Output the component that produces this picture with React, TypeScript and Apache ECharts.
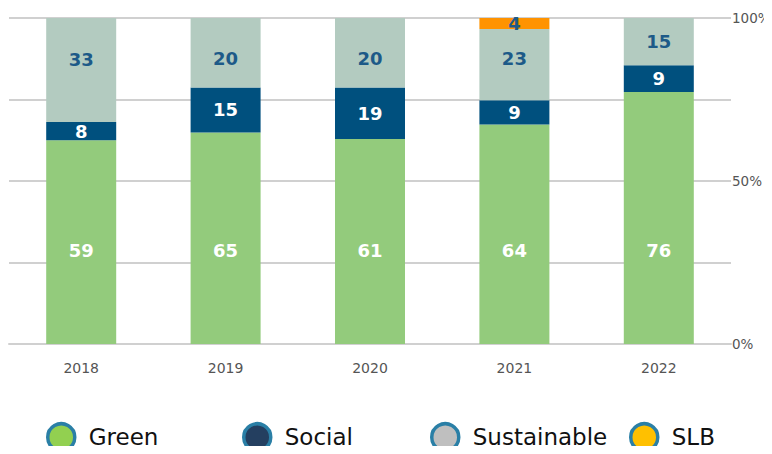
import React, { useEffect, useRef } from "react";
import * as echarts from "echarts";

const categories = ["2018", "2019", "2020", "2021", "2022"];
// bar heights (% of total) as drawn in the picture
const greenValues = [62.5, 64.9, 62.9, 67.3, 77.3];
const socialValues = [5.6, 13.8, 15.8, 7.5, 8.2];
const sustainableValues = [31.9, 21.3, 21.3, 21.8, 14.5];
const slbValues = [0, 0, 0, 3.4, 0];
// printed labels
const greenLabels = [59, 65, 61, 64, 76];
const socialLabels = [8, 15, 19, 9, 9];
const sustainableLabels = [33, 20, 20, 23, 15];
const slbLabels = [0, 0, 0, 4, 0];
const yTicks = [0, 50, 100];

const legendNames = ["Green", "Social", "Sustainable", "SLB"];
const legendFill = ["#92d050", "#243f60", "#bfbfbf", "#ffc000"];
const legendLeft = [46, 242, 430, 629];
const sustainableLabelShift = [-10, 6, 6, -6, 0];

export default function App() {
  const ref = useRef<HTMLDivElement>(null);
  useEffect(() => {
    if (!ref.current) return;
    const chart = echarts.init(ref.current, undefined, { renderer: "svg" });
    const labelFont = {
      fontFamily: "DejaVu Sans",
      fontWeight: "bold" as const,
      fontSize: 18,
    };
    const mkSeries = (
      name: string,
      data: number[],
      labels: number[],
      color: string,
      labelColor: string,
      shifts?: number[],
      position: string = "inside",
      distance: number = 5
    ) => ({
      name,
      type: "bar",
      stack: "total",
      barWidth: 70,
      data: data.map((v, i) =>
        v === 0
          ? null
          : {
              value: v,
              label: shifts ? { offset: [0, shifts[i]] } : undefined,
            }
      ),
      itemStyle: { color },
      label: {
        show: true,
        position,
        distance,
        color: labelColor,
        formatter: (p: any) => String(labels[p.dataIndex]),
        ...labelFont,
      },
      emphasis: { disabled: true },
    });
    chart.setOption({
      animation: false,
      grid: { left: 9, right: 41, top: 18, bottom: 110, outerBoundsMode: "none" },
      xAxis: {
        type: "category",
        data: categories,
        axisTick: { show: false },
        axisLine: { show: true, lineStyle: { color: "#d0d0d0", width: 2 } },
        axisLabel: {
          color: "#555",
          fontFamily: "DejaVu Sans",
          fontSize: 14,
          margin: 17,
        },
      },
      yAxis: {
        type: "value",
        position: "right",
        min: 0,
        max: 100,
        interval: 25,
        axisLine: { show: false },
        axisTick: { show: false },
        splitLine: { lineStyle: { color: "#d0d0d0", width: 2 } },
        axisLabel: {
          color: "#555",
          fontFamily: "DejaVu Sans",
          fontSize: 13.5,
          margin: 1,
          formatter: (v: number) => (yTicks.includes(v) ? v + "%" : ""),
        },
      },
      legend: legendNames.map((n, i) => ({
        data: [
          {
            name: n,
            itemStyle: { color: legendFill[i], borderColor: "#2a7fa6", borderWidth: 3.5 },
          },
        ],
        icon: "circle",
        left: legendLeft[i],
        top: 422,
        padding: 0,
        itemWidth: 27,
        itemHeight: 27,
        selectedMode: false,
        textStyle: {
          color: "#111",
          fontFamily: "DejaVu Sans",
          fontSize: 23,
          padding: [0, 0, 0, 9],
        },
      })),
      series: [
        mkSeries("Green", greenValues, greenLabels, "#93cb7c", "#ffffff", undefined, "insideBottom", 85),
        mkSeries("Social", socialValues, socialLabels, "#00507e", "#ffffff"),
        mkSeries("Sustainable", sustainableValues, sustainableLabels, "#b3cbc0", "#1d5a88", sustainableLabelShift),
        mkSeries("SLB", slbValues, slbLabels, "#ff9300", "#1d5a88"),
      ],
    });
    return () => chart.dispose();
  }, []);
  return <div ref={ref} style={{ width: 772, height: 454, margin: -8 }} />;
}
